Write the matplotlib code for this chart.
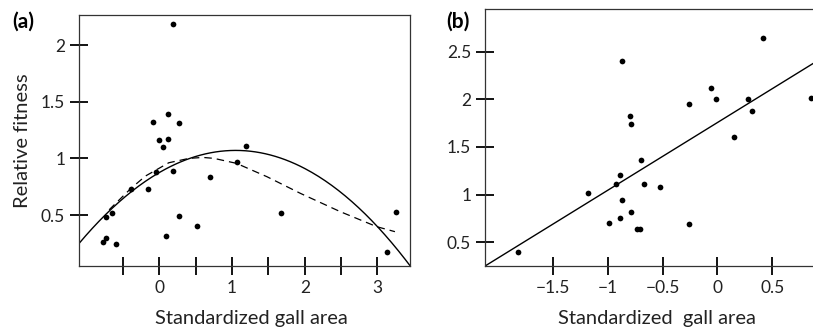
"""
Relative fitness vs standardized gall area, two panels (a) and (b).
"""
import numpy as np
import matplotlib
matplotlib.use("Agg")
import matplotlib.pyplot as plt

plt.rcParams['font.family'] = ['Lato', 'DejaVu Sans']

# Panel (a): puntos
gall_a = [0.184, -0.087, 0.12, 0.275, 0.0, 0.12, 0.051, 1.197, 1.073, -0.045,
          0.184, 0.697, -0.393, -0.151, -0.646, -0.733, 0.267, 1.678, 3.26, 0.522,
          0.096, -0.733, -0.77, -0.595, 3.127]
fit_a = [2.182, 1.317, 1.393, 1.309, 1.161, 1.173, 1.10, 1.111, 0.965, 0.877,
         0.888, 0.835, 0.727, 0.729, 0.518, 0.485, 0.494, 0.515, 0.524, 0.403,
         0.318, 0.294, 0.265, 0.242, 0.171]

# Curva cuadratica (forma de vertice) del panel (a)
quad_peak_x = 1.05
quad_peak_y = 1.07
quad_curv = 0.177

# Curva suavizada (discontinua) del panel (a)
spline_x = [-0.69, -0.39, -0.19, 0.13, 0.41, 0.6, 0.75, 1.06, 1.48, 1.94, 2.49, 2.99, 3.24]
spline_y = [0.546, 0.735, 0.844, 0.961, 1.0, 1.008, 1.0, 0.956, 0.838, 0.691, 0.529, 0.397, 0.353]

# Panel (b)
gall_b = [0.417, -0.870, -0.056, -0.014, 0.275, 0.849, -0.260, 0.317, -0.800, -0.788,
          0.148, -0.694, -0.888, -0.922, -0.672, -0.524, -1.182, -0.870, -0.788, -0.988,
          -0.888, -0.257, -0.736, -0.703, -1.820]
fit_b = [2.648, 2.403, 2.120, 2.004, 2.001, 2.018, 1.949, 1.881, 1.822, 1.745,
         1.605, 1.363, 1.203, 1.115, 1.115, 1.080, 1.017, 0.943, 0.817, 0.705,
         0.757, 0.691, 0.636, 0.636, 0.397]

# Recta de regresion del panel (b)
lin_slope = 0.712
lin_intercept = 1.757

fig = plt.figure(figsize=(8.13, 3.29), dpi=100)

spine_col = '#333333'
text_col = '#222222'
tick_kw = dict(direction='inout', length=13, width=1.3, color='black',
               labelsize=12.5, labelcolor=text_col)

# ---------- Panel (a) ----------
ax1 = fig.add_axes([0.0972, 0.1915, 0.4071, 0.7629])
ax1.scatter(gall_a, fit_a, s=17, color='black', zorder=3, linewidths=0)

xq = np.linspace(-1.104, 3.447, 200)
ax1.plot(xq, quad_peak_y - quad_curv * (xq - quad_peak_x) ** 2, color='black', lw=1.0)
ax1.plot(spline_x, spline_y, color='black', lw=0.9, dashes=(6, 4))

ax1.set_xlim(-1.104, 3.447)
ax1.set_ylim(0.05, 2.265)
ax1.set_xticks([0, 1, 2, 3])
ax1.set_xticks([-0.5, 0.5, 1.5, 2.5], minor=True)
ax1.set_yticks([0.5, 1, 1.5, 2])
ax1.set_yticklabels(['0.5', '1', '1.5', '2'])
ax1.tick_params(axis='both', which='both', **tick_kw)
for sp in ax1.spines.values():
    sp.set_color(spine_col)
    sp.set_linewidth(0.9)
ax1.set_xlabel('Standardized gall area', fontsize=14.5, color=text_col)
ax1.xaxis.set_label_coords(0.522, -0.175)
ax1.set_ylabel('Relative fitness', fontsize=14.5, color=text_col, labelpad=7)
fig.text(0.015, 0.935, '(a)', fontsize=15, fontweight='bold', va='center')

# ---------- Panel (b) ----------
ax2 = fig.add_axes([0.5966, 0.1915, 0.4034, 0.7802])
ax2.scatter(gall_b, fit_b, s=17, color='black', zorder=3, linewidths=0, clip_on=False)

xl = np.array([-2.117, 0.87])
ax2.plot(xl, lin_intercept + lin_slope * xl, color='black', lw=1.0)

ax2.set_xlim(-2.117, 0.87)
ax2.set_ylim(0.25, 2.946)
ax2.set_xticks([-1.5, -1, -0.5, 0, 0.5])
ax2.set_xticklabels(['\u22121.5', '\u22121', '\u22120.5', '0', '0.5'])
ax2.set_yticks([0.5, 1, 1.5, 2, 2.5])
ax2.set_yticklabels(['0.5', '1', '1.5', '2', '2.5'])
ax2.tick_params(axis='both', which='both', **tick_kw)
ax2.spines['right'].set_visible(False)
for sp in ax2.spines.values():
    sp.set_color(spine_col)
    sp.set_linewidth(0.9)
ax2.set_xlabel('Standardized  gall area', fontsize=14.5, color=text_col)
ax2.xaxis.set_label_coords(0.523, -0.171)
fig.text(0.549, 0.935, '(b)', fontsize=15, fontweight='bold', va='center')

fig.savefig('out.png', dpi=100)
